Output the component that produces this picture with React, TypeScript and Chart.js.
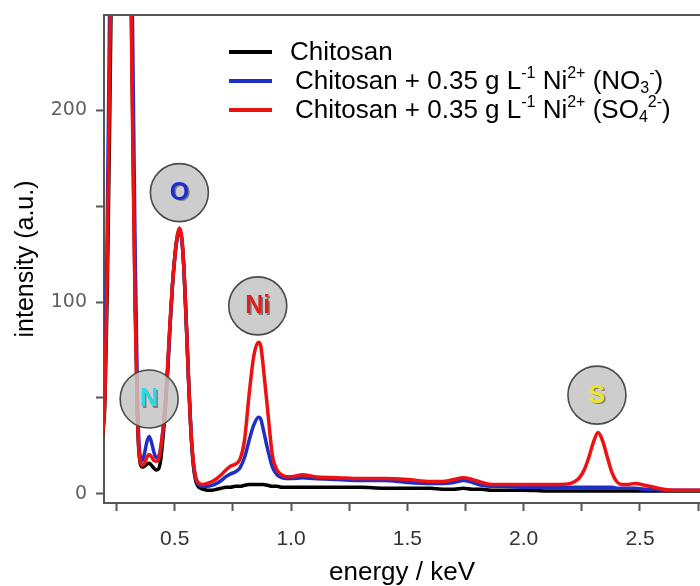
import React, { useEffect, useRef } from "react";
import { Chart, registerables } from "chart.js";

Chart.register(...registerables);

// energy axis (keV)
const energy = [
  0.19, 0.2, 0.21, 0.22, 0.23, 0.24, 0.25, 0.26, 0.27, 0.28, 0.29, 0.3, 0.31, 0.32, 0.33, 0.34, 0.35, 0.36, 0.37,
  0.38, 0.39, 0.4, 0.41, 0.42, 0.43, 0.44, 0.45, 0.46, 0.47, 0.48, 0.49, 0.5, 0.51, 0.52, 0.53, 0.54, 0.55, 0.56,
  0.57, 0.58, 0.59, 0.6, 0.62, 0.64, 0.66, 0.68, 0.7, 0.72, 0.74, 0.76, 0.78, 0.8, 0.82, 0.84, 0.86, 0.87, 0.88,
  0.9, 0.92, 0.94, 0.96, 0.98, 1.0, 1.05, 1.1, 1.2, 1.3, 1.4, 1.5, 1.6, 1.65, 1.7, 1.74, 1.78, 1.82, 1.86, 1.9,
  2.0, 2.1, 2.15, 2.2, 2.22, 2.24, 2.26, 2.28, 2.3, 2.32, 2.34, 2.36, 2.38, 2.4, 2.42, 2.45, 2.48, 2.52, 2.56,
  2.6, 2.65, 2.7, 2.76,
];

// intensity (a.u.)
const chitosan = [
  30, 48, 105, 190, 290, 400, 500, 560, 580, 560, 480, 390, 290, 190, 100, 38, 17, 14, 14.5,
  15.5, 16, 15, 13.5, 12.5, 13, 18, 30, 45, 65, 88, 108, 123, 133, 137, 133, 116, 88, 58,
  32, 15, 7, 4, 2.5, 2, 2, 2.5, 3, 3.5, 3.5, 4, 4, 4.5, 5, 5, 5, 5, 5,
  4.5, 4, 4, 3.5, 3.5, 3.5, 3.5, 3.5, 3.5, 3.5, 3, 3, 3, 2.5, 2.5, 3, 2.5, 2.5, 2, 2,
  2, 1.5, 1.5, 1.5, 1.5, 1.5, 1.5, 1.5, 1.5, 1.5, 1.5, 1.5, 1.5, 1.5, 1.5, 1.5, 1.5, 1.5, 1.5,
  1.5, 1.5, 1.5, 1.5,
];

const nitrate = [
  32, 56, 140, 250, 360, 470, 560, 600, 610, 590, 520, 430, 330, 230, 125, 50, 21, 17.5, 21,
  27, 30, 27, 22, 19, 19.5, 24, 34, 47, 65, 88, 108, 123, 133, 137, 133, 116, 88, 58,
  32, 16, 8, 5, 4, 4, 4.5, 5.5, 7, 9, 10.5, 11.5, 13.5, 19, 28, 36, 40, 39, 34,
  23, 14, 10, 8.5, 8, 8, 8.5, 8, 7.5, 7, 7, 6, 5.5, 5.5, 6, 7, 6, 4.5, 4, 4,
  3.5, 3.5, 3.5, 3.5, 3.5, 3.5, 3.5, 3.5, 3.5, 3.5, 3.5, 3.5, 3.5, 3, 3, 3, 3, 2.5, 2.5,
  2, 2, 2, 2,
];

const sulfate = [
  30, 52, 118, 215, 320, 430, 520, 580, 600, 580, 480, 380, 280, 180, 95, 40, 18, 15, 16,
  19, 20.5, 19.5, 17.5, 17, 18, 24, 34, 48, 68, 90, 109, 123, 134, 138.5, 134, 117, 89, 58,
  32, 17, 9, 6, 5, 5.5, 6.5, 8, 10, 12.5, 14.5, 15.5, 18, 28, 52, 72, 79, 77, 67,
  43, 20, 12.5, 10, 9, 9, 10, 9, 8.5, 8, 8, 7.5, 6.5, 6.5, 7.5, 8.5, 7.5, 6, 5, 5,
  5, 5, 5, 5.5, 6.5, 8.5, 12.5, 19, 27, 32, 27.5, 19, 11, 6.5, 5, 5, 5.5, 4.5, 3.5,
  2.5, 2, 2, 2,
];

const seriesLabels = [
  "Chitosan",
  "Chitosan + 0.35 g L⁻¹ Ni²⁺ (NO₃⁻)",
  "Chitosan + 0.35 g L⁻¹ Ni²⁺ (SO₄²⁻)",
];
const seriesColors = ["#000000", "#1f2ec4", "#ee1111"];

// legend rich text parts: [text, mode] (0 normal, 1 superscript, -1 subscript)
const legendParts: [string, number][][] = [
  [["Chitosan", 0]],
  [["Chitosan + 0.35 g L", 0], ["-1", 1], [" Ni", 0], ["2+", 1], [" (NO", 0], ["3", -1], ["-", 1], [")", 0]],
  [["Chitosan + 0.35 g L", 0], ["-1", 1], [" Ni", 0], ["2+", 1], [" (SO", 0], ["4", -1], ["2-", 1], [")", 0]],
];

// element markers
const elementLabels = ["N", "O", "Ni", "S"];
const elementX = [0.39, 0.52, 0.857, 2.315];
const elementY = [49.5, 157, 98, 51.5];
const elementColors = ["#22dde8", "#1a2ed0", "#e02020", "#ece62a"];

const xTicksLabelled = ["0.5", "1.0", "1.5", "2.0", "2.5"];

const FONT = '"Liberation Sans", Arial, sans-serif';

const overlayPlugin = {
  id: "overlay",
  afterDatasetsDraw(chart: any) {
    const { ctx, chartArea, scales } = chart;
    ctx.save();
    // top frame line
    ctx.strokeStyle = "#555";
    ctx.lineWidth = 2;
    ctx.beginPath();
    ctx.moveTo(chartArea.left - 1, chartArea.top);
    ctx.lineTo(chartArea.right, chartArea.top);
    ctx.stroke();

    // element circles
    elementLabels.forEach((lab, i) => {
      const cx = scales.x.getPixelForValue(elementX[i]);
      const cy = scales.y.getPixelForValue(elementY[i]);
      ctx.beginPath();
      ctx.arc(cx, cy, 29, 0, Math.PI * 2);
      ctx.fillStyle = "rgba(196,196,196,0.85)";
      ctx.fill();
      ctx.lineWidth = 1.6;
      ctx.strokeStyle = "#4a4a4a";
      ctx.stroke();
      ctx.font = `bold 25px ${FONT}`;
      ctx.textAlign = "center";
      ctx.textBaseline = "middle";
      ctx.fillStyle = "rgba(60,60,60,0.55)";
      ctx.fillText(lab, cx + 1.5, cy + 2);
      ctx.fillStyle = elementColors[i];
      ctx.fillText(lab, cx, cy + 0.5);
    });

    // legend
    const lx0 = chartArea.left + 125;
    const lx1 = chartArea.left + 168;
    const textX = [chartArea.left + 186, chartArea.left + 191, chartArea.left + 191];
    const rowY = [chartArea.top + 37, chartArea.top + 66, chartArea.top + 95];
    legendParts.forEach((parts, i) => {
      ctx.strokeStyle = seriesColors[i];
      ctx.lineWidth = 4;
      ctx.beginPath();
      ctx.moveTo(lx0, rowY[i]);
      ctx.lineTo(lx1, rowY[i]);
      ctx.stroke();
      let x = textX[i];
      ctx.fillStyle = "#000";
      ctx.textAlign = "left";
      ctx.textBaseline = "middle";
      parts.forEach(([t, mode]) => {
        const size = mode === 0 ? 26 : 16;
        ctx.font = `${size}px ${FONT}`;
        const dy = mode === 1 ? -8 : mode === -1 ? 7 : 0;
        ctx.fillText(t, x, rowY[i] + 1 + dy);
        x += ctx.measureText(t).width;
      });
    });
    ctx.restore();
  },
};

export default function App() {
  const ref = useRef<HTMLCanvasElement | null>(null);
  useEffect(() => {
    document.body.style.margin = "0";
    const canvas = ref.current;
    if (!canvas) return;
    const series = [chitosan, nitrate, sulfate];
    const chart = new Chart(canvas, {
      type: "line",
      data: {
        datasets: series.map((vals, i) => ({
          label: seriesLabels[i],
          data: energy.map((e, j) => ({ x: e, y: vals[j] })),
          borderColor: seriesColors[i],
          backgroundColor: seriesColors[i],
          borderWidth: 3.5,
          pointRadius: 0,
          fill: false,
          cubicInterpolationMode: "monotone",
          order: 3 - i,
        })),
      },
      options: {
        animation: false,
        responsive: false,
        devicePixelRatio: 1,
        layout: { padding: { top: 15, right: 0, bottom: 0, left: 0 } },
        plugins: { legend: { display: false }, tooltip: { enabled: false } },
        scales: {
          x: {
            type: "linear",
            min: 0.196,
            max: 2.758,
            afterFit: (s: any) => {
              s.height = 83;
              s.paddingRight = 0;
              s.paddingLeft = 0;
            },
            grid: { drawOnChartArea: false, drawTicks: true, tickLength: 8, tickColor: "#555", tickWidth: 2 },
            border: { display: true, color: "#555", width: 2 },
            ticks: {
              stepSize: 0.25,
              includeBounds: false,
              autoSkip: false,
              maxRotation: 0,
              padding: 16,
              color: "#333",
              font: { family: FONT, size: 21 },
              callback: (v: any) => {
                const s = Number(v).toFixed(1);
                return Math.abs(Number(v) * 2 - Math.round(Number(v) * 2)) < 1e-6 && xTicksLabelled.includes(s) ? s : "";
              },
            },
            title: {
              display: true,
              text: "energy / keV",
              color: "#000",
              font: { family: FONT, size: 26, lineHeight: 1 },
              padding: { top: 0, bottom: 0 },
            },
          },
          y: {
            type: "linear",
            min: -4.7,
            max: 249.5,
            afterFit: (s: any) => {
              s.width = 104;
              s.paddingTop = 0;
              s.paddingBottom = 0;
            },
            grid: { drawOnChartArea: false, drawTicks: true, tickLength: 8, tickColor: "#555", tickWidth: 2 },
            border: { display: true, color: "#555", width: 2 },
            ticks: {
              stepSize: 50,
              includeBounds: false,
              autoSkip: false,
              padding: 9,
              color: "#606060",
              font: { family: '"DejaVu Sans", sans-serif', size: 19 },
              callback: (v: any) => (Number(v) % 100 === 0 ? String(v) : ""),
            },
            title: {
              display: true,
              text: "intensity (a.u.)",
              color: "#000",
              font: { family: FONT, size: 25, lineHeight: 1 },
              padding: { top: 14, bottom: 0 },
            },
          },
        },
      },
      plugins: [overlayPlugin],
    } as any);
    return () => chart.destroy();
  }, []);
  return (
    <div style={{ width: 700, height: 586, position: "relative", background: "#fff" }}>
      <canvas ref={ref} width={700} height={586} style={{ display: "block" }} />
    </div>
  );
}
